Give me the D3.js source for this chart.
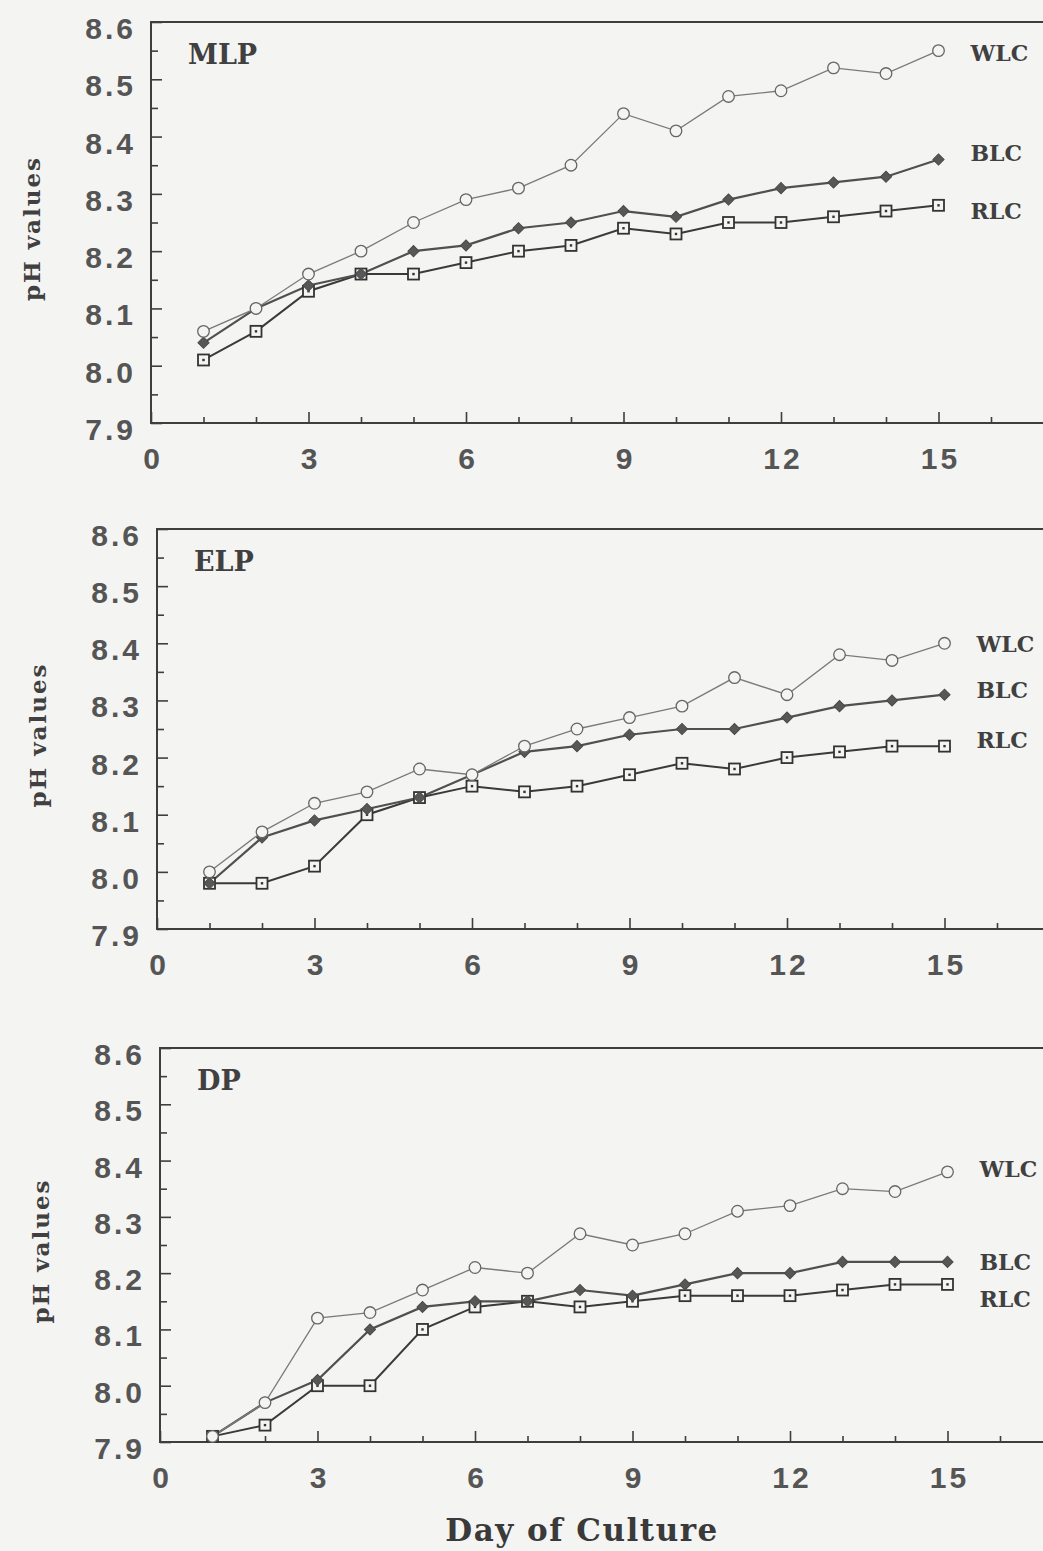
<!DOCTYPE html>
<html>
<head>
<meta charset="utf-8">
<script src="https://cdn.jsdelivr.net/npm/d3@7"></script>
<style>
  body { margin: 0; background: #f4f4f2; }
  svg { display: block; }
</style>
</head>
<body>
<div id="chart"></div>
<script>
// day of culture
var days = [1, 2, 3, 4, 5, 6, 7, 8, 9, 10, 11, 12, 13, 14, 15];

// MLP panel
var mlpWLC = [8.06, 8.10, 8.16, 8.20, 8.25, 8.29, 8.31, 8.35, 8.44, 8.41, 8.47, 8.48, 8.52, 8.51, 8.55];
var mlpBLC = [8.04, 8.10, 8.14, 8.16, 8.20, 8.21, 8.24, 8.25, 8.27, 8.26, 8.29, 8.31, 8.32, 8.33, 8.36];
var mlpRLC = [8.01, 8.06, 8.13, 8.16, 8.16, 8.18, 8.20, 8.21, 8.24, 8.23, 8.25, 8.25, 8.26, 8.27, 8.28];

// ELP panel
var elpWLC = [8.00, 8.07, 8.12, 8.14, 8.18, 8.17, 8.22, 8.25, 8.27, 8.29, 8.34, 8.31, 8.38, 8.37, 8.40];
var elpBLC = [7.98, 8.06, 8.09, 8.11, 8.13, 8.17, 8.21, 8.22, 8.24, 8.25, 8.25, 8.27, 8.29, 8.30, 8.31];
var elpRLC = [7.98, 7.98, 8.01, 8.10, 8.13, 8.15, 8.14, 8.15, 8.17, 8.19, 8.18, 8.20, 8.21, 8.22, 8.22];

// DP panel
var dpWLC = [7.91, 7.97, 8.12, 8.13, 8.17, 8.21, 8.20, 8.27, 8.25, 8.27, 8.31, 8.32, 8.35, 8.345, 8.38];
var dpBLC = [7.91, 7.97, 8.01, 8.10, 8.14, 8.15, 8.15, 8.17, 8.16, 8.18, 8.20, 8.20, 8.22, 8.22, 8.22];
var dpRLC = [7.91, 7.93, 8.00, 8.00, 8.10, 8.14, 8.15, 8.14, 8.15, 8.16, 8.16, 8.16, 8.17, 8.18, 8.18];

// axis ticks
var yTicks = [7.9, 8.0, 8.1, 8.2, 8.3, 8.4, 8.5, 8.6];
var yMinor = [7.95, 8.05, 8.15, 8.25, 8.35, 8.45, 8.55];
var xTicks = [0, 3, 6, 9, 12, 15];
var xMinor = [1, 2, 4, 5, 7, 8, 10, 11, 13, 14, 16, 17];

var width = 1043, height = 1551;
var bg = "#f4f4f2";
var serif = "'DejaVu Serif', 'Liberation Serif', serif";
var sans = "'Liberation Sans', Arial, Helvetica, sans-serif";

var svg = d3.select("#chart").append("svg")
  .attr("width", width)
  .attr("height", height);

svg.append("rect").attr("width", width).attr("height", height).attr("fill", bg);

// panel frames (it is slightly skewed)
var panels = [
  { name: "MLP", wlc: mlpWLC, blc: mlpBLC, rlc: mlpRLC, left: 151, top: 22, bottom: 423, perDay: 52.5, labelDy: [2, -6, 6] },
  { name: "ELP", wlc: elpWLC, blc: elpBLC, rlc: elpRLC, left: 157, top: 529, bottom: 929, perDay: 52.5, labelDy: [1, -5, -6] },
  { name: "DP", wlc: dpWLC, blc: dpBLC, rlc: dpRLC, left: 160, top: 1048, bottom: 1442, perDay: 52.5, labelDy: [-3, 0, 15] }
];

var ink = "#3e3e3e";

panels.forEach(function (p) {
  var xMax = 17.8;
  var x = d3.scaleLinear().domain([0, xMax]).range([p.left, p.left + xMax * p.perDay]);
  var y = d3.scaleLinear().domain([7.9, 8.6]).range([p.bottom, p.top]);
  var g = svg.append("g");

  // y axis ticks (inward)
  g.append("g").attr("transform", "translate(" + p.left + ",0)")
    .call(d3.axisLeft(y).tickValues(yMinor).tickSize(-7).tickFormat(""))
    .call(function (a) { a.select(".domain").remove(); });
  var ya = g.append("g").attr("transform", "translate(" + p.left + ",0)")
    .call(d3.axisLeft(y).tickValues(yTicks).tickSize(-11).tickPadding(15).tickFormat(d3.format(".1f")))
    .call(function (a) { a.select(".domain").remove(); });
  ya.selectAll("text").attr("dy", "0.55em");

  // x axis ticks (inward)
  g.append("g").attr("transform", "translate(0," + p.bottom + ")")
    .call(d3.axisBottom(x).tickValues(xMinor).tickSize(-6).tickFormat(""))
    .call(function (a) { a.select(".domain").remove(); });
  var xa = g.append("g").attr("transform", "translate(0," + p.bottom + ")")
    .call(d3.axisBottom(x).tickValues(xTicks).tickSize(-11).tickPadding(25).tickFormat(d3.format("d")))
    .call(function (a) { a.select(".domain").remove(); });
  xa.selectAll("text").attr("dx", 1.5);

  g.selectAll(".tick line").attr("stroke", ink).attr("stroke-width", 1.6);
  g.selectAll(".tick text")
    .attr("fill", "#555")
    .style("font-family", sans)
    .style("font-weight", "bold")
    .style("font-size", "30px")
    .style("letter-spacing", "3px");

  // frame: left, top, bottom
  g.append("path")
    .attr("d", "M" + x(xMax) + "," + p.top + "H" + p.left + "V" + p.bottom + "H" + x(xMax))
    .attr("fill", "none")
    .attr("stroke", ink)
    .attr("stroke-width", 2);

  // panel name
  g.append("text")
    .attr("x", p.left + 37)
    .attr("y", p.top + 42)
    .attr("fill", "#404040")
    .style("font-family", serif)
    .style("font-weight", "bold")
    .style("font-size", "27px")
    .text(p.name);

  // y axis title
  var cy = (p.top + p.bottom) / 2 + 6;
  g.append("text")
    .attr("transform", "translate(" + (p.left - 111) + "," + cy + ") rotate(-90)")
    .attr("text-anchor", "middle")
    .attr("fill", "#404040")
    .style("font-family", serif)
    .style("font-weight", "bold")
    .style("font-size", "23px")
    .style("letter-spacing", "2px")
    .text("pH values");

  var line = d3.line()
    .x(function (d, i) { return x(days[i]); })
    .y(function (d) { return y(d); });

  // lines
  g.append("path").datum(p.rlc).attr("d", line)
    .attr("fill", "none").attr("stroke", "#3a3a3a").attr("stroke-width", 2);
  g.append("path").datum(p.blc).attr("d", line)
    .attr("fill", "none").attr("stroke", "#505050").attr("stroke-width", 2.2);
  g.append("path").datum(p.wlc).attr("d", line)
    .attr("fill", "none").attr("stroke", "#7a7a7a").attr("stroke-width", 1.3);

  // RLC squares with centre dot
  var sq = g.append("g").selectAll("g").data(p.rlc).enter().append("g")
    .attr("transform", function (d, i) { return "translate(" + x(days[i]) + "," + y(d) + ")"; });
  sq.append("rect").attr("x", -5.5).attr("y", -5.5).attr("width", 11).attr("height", 11)
    .attr("fill", bg).attr("stroke", "#333").attr("stroke-width", 1.8);
  sq.append("rect").attr("x", -1.2).attr("y", -1.2).attr("width", 2.4).attr("height", 2.4)
    .attr("fill", "#333");

  // BLC diamonds
  g.append("g").selectAll("path").data(p.blc).enter().append("path")
    .attr("d", d3.symbol(d3.symbolSquare, 62))
    .attr("transform", function (d, i) { return "translate(" + x(days[i]) + "," + y(d) + ") rotate(45)"; })
    .attr("fill", "#575757")
    .attr("stroke", "#4a4a4a")
    .attr("stroke-width", 1);

  // WLC open circles
  g.append("g").selectAll("circle").data(p.wlc).enter().append("circle")
    .attr("cx", function (d, i) { return x(days[i]); })
    .attr("cy", function (d) { return y(d); })
    .attr("r", 5.8)
    .attr("fill", bg)
    .attr("stroke", "#666")
    .attr("stroke-width", 1.3);

  // series labels at the end of each line
  var ends = [p.wlc, p.blc, p.rlc];
  ["WLC", "BLC", "RLC"].forEach(function (s, k) {
    var vals = ends[k];
    g.append("text")
      .attr("x", x(days[days.length - 1]) + 32)
      .attr("y", y(vals[vals.length - 1]) + p.labelDy[k])
      .attr("dy", "0.36em")
      .attr("fill", "#404040")
      .style("font-family", serif)
      .style("font-weight", "bold")
      .style("font-size", "22px")
      .text(s);
  });
});

// x axis title
svg.append("text")
  .attr("x", 582)
  .attr("y", 1541)
  .attr("text-anchor", "middle")
  .attr("fill", "#3a3a3a")
  .style("font-family", serif)
  .style("font-weight", "bold")
  .style("font-size", "31px")
  .style("letter-spacing", "1.5px")
  .text("Day of Culture");
</script>
</body>
</html>
